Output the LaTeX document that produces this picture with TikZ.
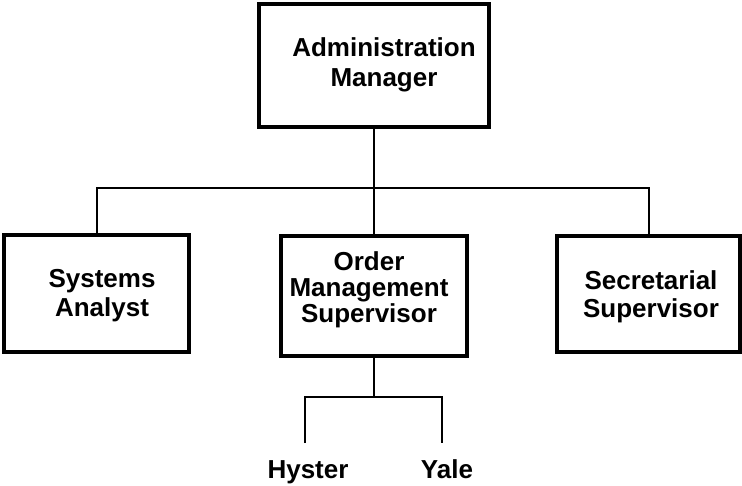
\documentclass[tikz,border=0pt]{standalone}
\usepackage{fontspec}
\setmainfont{Liberation Sans}
\begin{document}
\begin{tikzpicture}[x=1pt,y=-1pt,
  box/.style={draw, line width=3.5pt, inner sep=0pt},
  txt/.style={inner sep=0pt, anchor=base, align=center, font=\bfseries},
  conn/.style={line width=2pt}]
\useasboundingbox (0,0) rectangle (742,486);
\node[box, minimum width=230pt, minimum height=123pt] (top) at (374,65.5) {};
\node[box, minimum width=185pt, minimum height=117pt] (left) at (96.5,293.5) {};
\node[box, minimum width=186pt, minimum height=120pt] (mid) at (374,296) {};
\node[box, minimum width=183pt, minimum height=116pt] (right) at (648.5,294) {};
\node[txt, font=\fontsize{26}{30}\selectfont\bfseries] (topt) at (384,87) {Administration\\Manager};
\node[txt, font=\fontsize{26}{29}\selectfont\bfseries] (leftt) at (102,317) {Systems\\Analyst};
\node[txt, font=\fontsize{26}{26}\selectfont\bfseries] (midt) at (369,323) {Order\\Management\\Supervisor};
\node[txt, font=\fontsize{26}{28}\selectfont\bfseries] (rightt) at (651,318) {Secretarial\\Supervisor};
\coordinate (bus) at (374,188);
\coordinate (bus2) at (374,397);
\coordinate (hend) at (305,443);
\coordinate (yend) at (442,443);
\node[txt, font=\fontsize{26}{26}\selectfont\bfseries] (hyster) at (308,478) {Hyster};
\node[txt, font=\fontsize{26}{26}\selectfont\bfseries] (yale) at (447,478) {Yale};
\draw[conn] (top.south) -- (mid.north);
\draw[conn] (left.north) -- (left.north |- bus) -- (right.north |- bus) -- (right.north);
\draw[conn] (mid.south) -- (bus2);
\draw[conn] (hend) -- (hend |- bus2) -- (yend |- bus2) -- (yend);
\end{tikzpicture}
\end{document}
